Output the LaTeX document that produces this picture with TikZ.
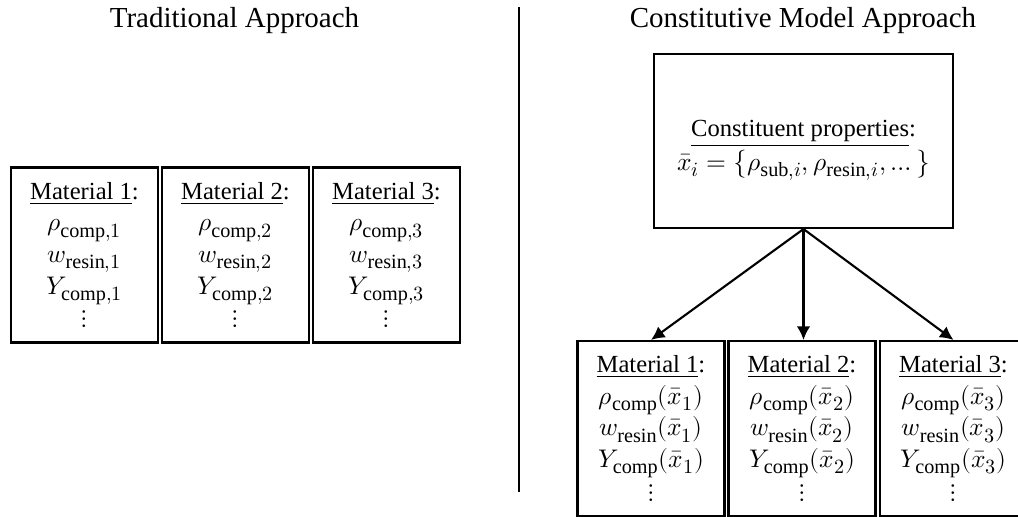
\documentclass[tikz,border=0pt]{standalone}
\usepackage{fontspec}
\usepackage{unicode-math}
\setmainfont{Liberation Serif}
\setmathfont{Latin Modern Math}
\DeclareMathSizes{14}{14.5}{11.5}{9}
\usetikzlibrary{positioning,arrows.meta}

\begin{document}
\begin{tikzpicture}[>={Latex[length=2.7mm,width=2.7mm]},x=0.02cm,y=-0.02cm,line width=1.2pt,
  font=\fontsize{14}{18}\selectfont,
  mat/.style={draw,inner sep=0pt,minimum width=2.94cm,minimum height=3.5cm,align=center},
  ttl/.style={font=\fontsize{16.5}{20}\selectfont}]
  \useasboundingbox (0,0) rectangle (1018,517);
  \node[ttl] (tradttl) at (234.5,21) {Traditional Approach};
  \node[ttl] (consttl) at (803,21) {Constitutive Model Approach};
  % traditional approach
  \node[mat] (t1) at (84.5,255) {\underline{Material 1}:\\ $\rho_{\mathrm{comp},1}$\\ $w_{\mathrm{resin},1}$\\ $Y_{\mathrm{comp},1}$\\ $\vdots$};
  \node[mat] (t2) at (235.5,255) {\underline{Material 2}:\\ $\rho_{\mathrm{comp},2}$\\ $w_{\mathrm{resin},2}$\\ $Y_{\mathrm{comp},2}$\\ $\vdots$};
  \node[mat] (t3) at (386.5,255) {\underline{Material 3}:\\ $\rho_{\mathrm{comp},3}$\\ $w_{\mathrm{resin},3}$\\ $Y_{\mathrm{comp},3}$\\ $\vdots$};
  % divider
  \coordinate (dtop) at (519,7);
  \coordinate (dbot) at (519,492);
  \draw (dtop) -- (dbot);
  % constitutive model approach
  \node[mat,minimum width=5.98cm,minimum height=3.48cm] (cp) at (803.5,141)
    {\rule{0pt}{20pt}\underline{Constituent properties}:\\[0pt] $\bar{x}_i=\big\{\rho_{\mathrm{sub},i},\rho_{\mathrm{resin},i},\dots\big\}$};
  \node[mat] (c1) at (651,428.5) {\underline{Material 1}:\\ $\rho_{\mathrm{comp}}(\bar{x}_1)$\\ $w_{\mathrm{resin}}(\bar{x}_1)$\\ $Y_{\mathrm{comp}}(\bar{x}_1)$\\ $\vdots$};
  \node[mat] (c2) at (802,428.5) {\underline{Material 2}:\\ $\rho_{\mathrm{comp}}(\bar{x}_2)$\\ $w_{\mathrm{resin}}(\bar{x}_2)$\\ $Y_{\mathrm{comp}}(\bar{x}_2)$\\ $\vdots$};
  \node[mat] (c3) at (953.5,428.5) {\underline{Material 3}:\\ $\rho_{\mathrm{comp}}(\bar{x}_3)$\\ $w_{\mathrm{resin}}(\bar{x}_3)$\\ $Y_{\mathrm{comp}}(\bar{x}_3)$\\ $\vdots$};
  \draw[->] (cp.south) -- (c1.north);
  \draw[->] (cp.south) -- (cp.south |- c2.north);
  \draw[->] (cp.south) -- (c3.north);
\end{tikzpicture}
\end{document}
